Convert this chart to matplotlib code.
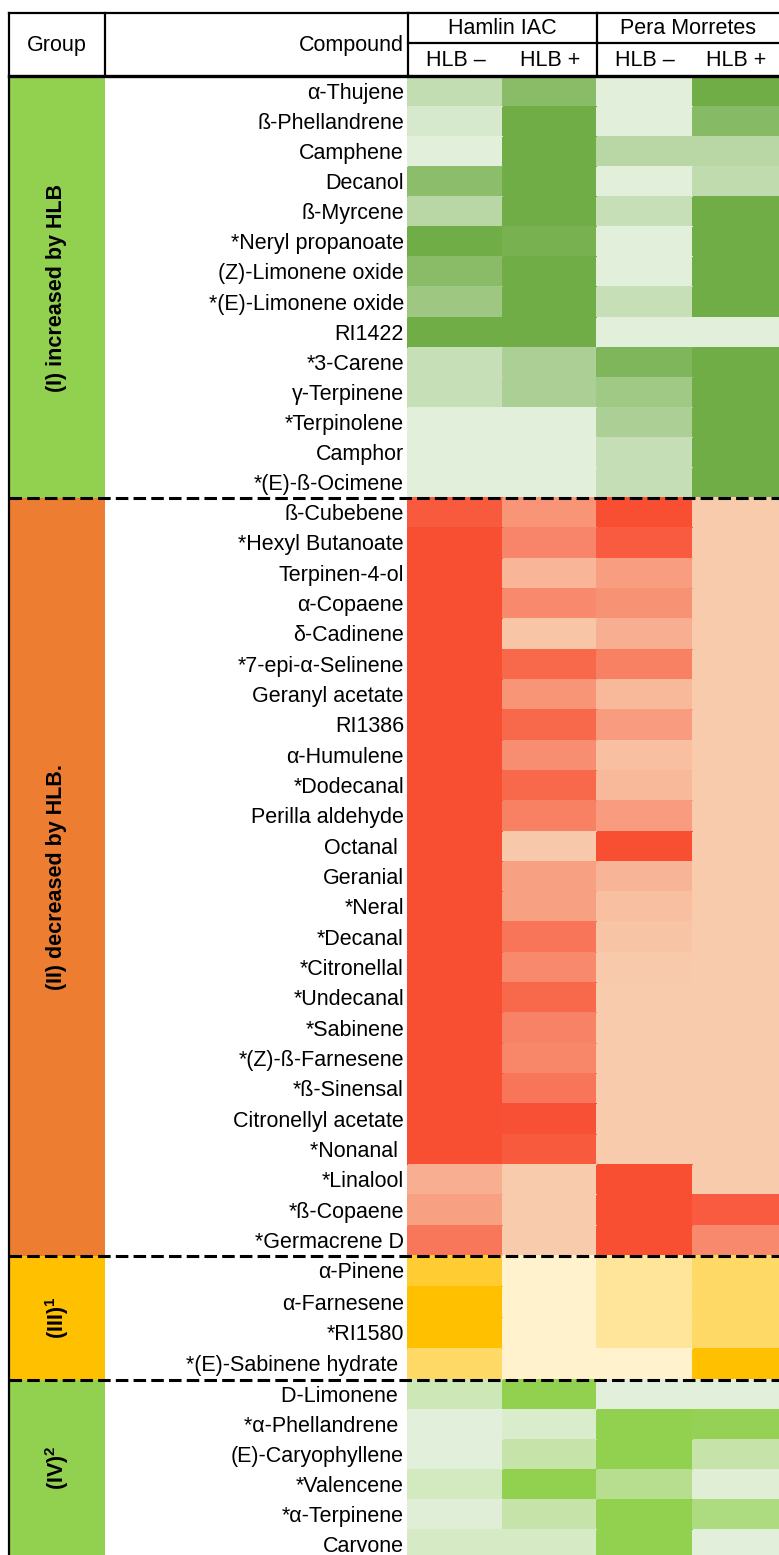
import matplotlib
matplotlib.use("Agg")
import matplotlib.pyplot as plt
from matplotlib.colors import LinearSegmentedColormap
import numpy as np

plt.rcParams["font.family"] = ["Liberation Sans", "DejaVu Sans"]
plt.rcParams["mathtext.fontset"] = "custom"
plt.rcParams["mathtext.rm"] = "Liberation Sans"
plt.rcParams["mathtext.bf"] = "Liberation Sans:bold"
plt.rcParams["mathtext.default"] = "regular"

# === データ ===
columns = ["HLB –", "HLB +", "HLB –", "HLB +"]
cultivars = ["Hamlin IAC", "Pera Morretes"]

g1_names = ["α-Thujene", "ß-Phellandrene", "Camphene", "Decanol", "ß-Myrcene",
            "*Neryl propanoate", "(Z)-Limonene oxide", "*(E)-Limonene oxide", "RI1422",
            "*3-Carene", "γ-Terpinene", "*Terpinolene", "Camphor", "*(E)-ß-Ocimene"]
g1_vals = [[0.28, 0.77, 0.00, 1.00],
           [0.10, 1.00, 0.00, 0.80],
           [0.00, 1.00, 0.36, 0.36],
           [0.75, 1.00, 0.00, 0.30],
           [0.36, 1.00, 0.24, 1.00],
           [1.00, 0.94, 0.00, 1.00],
           [0.77, 1.00, 0.00, 1.00],
           [0.60, 1.00, 0.24, 1.00],
           [1.00, 1.00, 0.00, 0.00],
           [0.24, 0.48, 0.86, 1.00],
           [0.24, 0.48, 0.57, 1.00],
           [0.00, 0.00, 0.48, 1.00],
           [0.00, 0.00, 0.25, 1.00],
           [0.00, 0.00, 0.25, 1.00]]

g2_names = ["ß-Cubebene", "*Hexyl Butanoate", "Terpinen-4-ol", "α-Copaene", "δ-Cadinene",
            "*7-epi-α-Selinene", "Geranyl acetate", "RI1386", "α-Humulene", "*Dodecanal",
            "Perilla aldehyde", "Octanal ", "Geranial", "*Neral", "*Decanal", "*Citronellal",
            "*Undecanal", "*Sabinene", "*(Z)-ß-Farnesene", "*ß-Sinensal",
            "Citronellyl acetate", "*Nonanal ", "*Linalool", "*ß-Copaene", "*Germacrene D"]
g2_vals = [[0.91, 0.44, 1.00, 0.00],
           [1.00, 0.56, 0.90, 0.00],
           [1.00, 0.18, 0.37, 0.00],
           [1.00, 0.53, 0.46, 0.00],
           [1.00, 0.05, 0.23, 0.00],
           [1.00, 0.80, 0.60, 0.00],
           [1.00, 0.44, 0.16, 0.00],
           [1.00, 0.80, 0.39, 0.00],
           [1.00, 0.49, 0.10, 0.00],
           [1.00, 0.79, 0.15, 0.00],
           [1.00, 0.60, 0.39, 0.00],
           [1.00, 0.03, 1.00, 0.00],
           [1.00, 0.35, 0.19, 0.00],
           [1.00, 0.35, 0.10, 0.00],
           [1.00, 0.69, 0.06, 0.00],
           [1.00, 0.53, 0.02, 0.00],
           [1.00, 0.79, 0.00, 0.00],
           [1.00, 0.59, 0.00, 0.00],
           [1.00, 0.55, 0.00, 0.00],
           [1.00, 0.69, 0.00, 0.00],
           [1.00, 0.99, 0.00, 0.00],
           [1.00, 0.91, 0.00, 0.00],
           [0.23, 0.00, 1.00, 0.00],
           [0.35, 0.00, 1.00, 0.90],
           [0.68, 0.00, 1.00, 0.53]]

g3_names = ["α-Pinene", "α-Farnesene", "*RI1580", "*(E)-Sabinene hydrate "]
g3_vals = [[0.75, 0.00, 0.25, 0.50],
           [1.00, 0.00, 0.25, 0.50],
           [1.00, 0.00, 0.25, 0.50],
           [0.50, 0.00, 0.00, 1.00]]

g4_names = ["D-Limonene ", "*α-Phellandrene ", "(E)-Caryophyllene", "*Valencene",
            "*α-Terpinene", "Carvone"]
g4_vals = [[0.26, 1.00, 0.00, 0.00],
           [0.00, 0.11, 1.00, 0.97],
           [0.00, 0.35, 1.00, 0.35],
           [0.19, 1.00, 0.55, 0.03],
           [0.02, 0.35, 1.00, 0.66],
           [0.15, 0.15, 1.00, 0.00]]

group_labels = ["(I) increased by HLB", "(II) decreased by HLB.", "(III)$^1$", "(IV)$^2$"]
group_colors = ["#92D050", "#ED7D31", "#FFC000", "#92D050"]
cell_ranges = [("#E2EFDA", "#70AD47"), ("#F8CBAD", "#F84F33"),
               ("#FFF2CC", "#FFC000"), ("#E2EFDA", "#92D050")]

groups = [(g1_names, g1_vals), (g2_names, g2_vals), (g3_names, g3_vals), (g4_names, g4_vals)]

# === レイアウト (ピクセル) ===
W, H = 779, 1555
group_top = [77, 498, 1256, 1380]   # 各グループの上端
row_heights = [30.07, 30.32, 31.0, 30.0]
col_edges = np.array([408, 503, 597, 693, 779])

fig = plt.figure(figsize=(W / 100, H / 100), dpi=100)
ax = fig.add_axes([0, 0, 1, 1])
ax.set_xlim(0, W)
ax.set_ylim(H, 0)
ax.axis("off")

fs = 15.5
for i, (names, vals) in enumerate(groups):
    n = len(names)
    rh = row_heights[i]
    y0 = group_top[i]
    cmap = LinearSegmentedColormap.from_list(f"g{i}", list(cell_ranges[i]))
    y_edges = y0 + rh * np.arange(n + 1)
    ax.pcolormesh(col_edges, y_edges, np.array(vals), cmap=cmap, vmin=0, vmax=1,
                  shading="flat", edgecolors="face", linewidth=0.3)
    end = group_top[i + 1] if i < 3 else H
    ax.axhspan(y0, end, xmin=10 / W, xmax=105 / W, color=group_colors[i], lw=0)
    for k, name in enumerate(names):
        ax.text(404, y0 + rh * (k + 0.5) + 1.5, name, ha="right", va="center", fontsize=fs)
    ax.text(57, (y0 + end) / 2, group_labels[i], rotation=90, ha="center",
            va="center", fontsize=fs, fontweight="bold")

# 区切り破線
for b in group_top[1:]:
    ax.plot([9, W], [b, b], color="black", lw=2.2, linestyle=(0, (4.1, 1.7)))

# === ヘッダー ===
ax.plot([9, W], [13, 13], color="black", lw=1.6)
ax.plot([9, W], [75.5, 75.5], color="black", lw=2.4)
ax.plot([408, W], [43, 43], color="black", lw=1.6)
for x in [105, 408, 597]:
    ax.plot([x, x], [13, 75], color="black", lw=1.6)
ax.plot([9, 9], [13, H], color="black", lw=1.6)

ax.text(57, 46, "Group", ha="center", va="center", fontsize=fs)
ax.text(404, 46, "Compound", ha="right", va="center", fontsize=fs)
ax.text((408 + 597) / 2, 29, cultivars[0], ha="center", va="center", fontsize=fs)
ax.text((597 + W) / 2, 29, cultivars[1], ha="center", va="center", fontsize=fs)
for j, c in enumerate(columns):
    ax.text((col_edges[j] + col_edges[j + 1]) / 2, 61, c, ha="center",
            va="center", fontsize=fs)

fig.savefig("out.png", dpi=100)
